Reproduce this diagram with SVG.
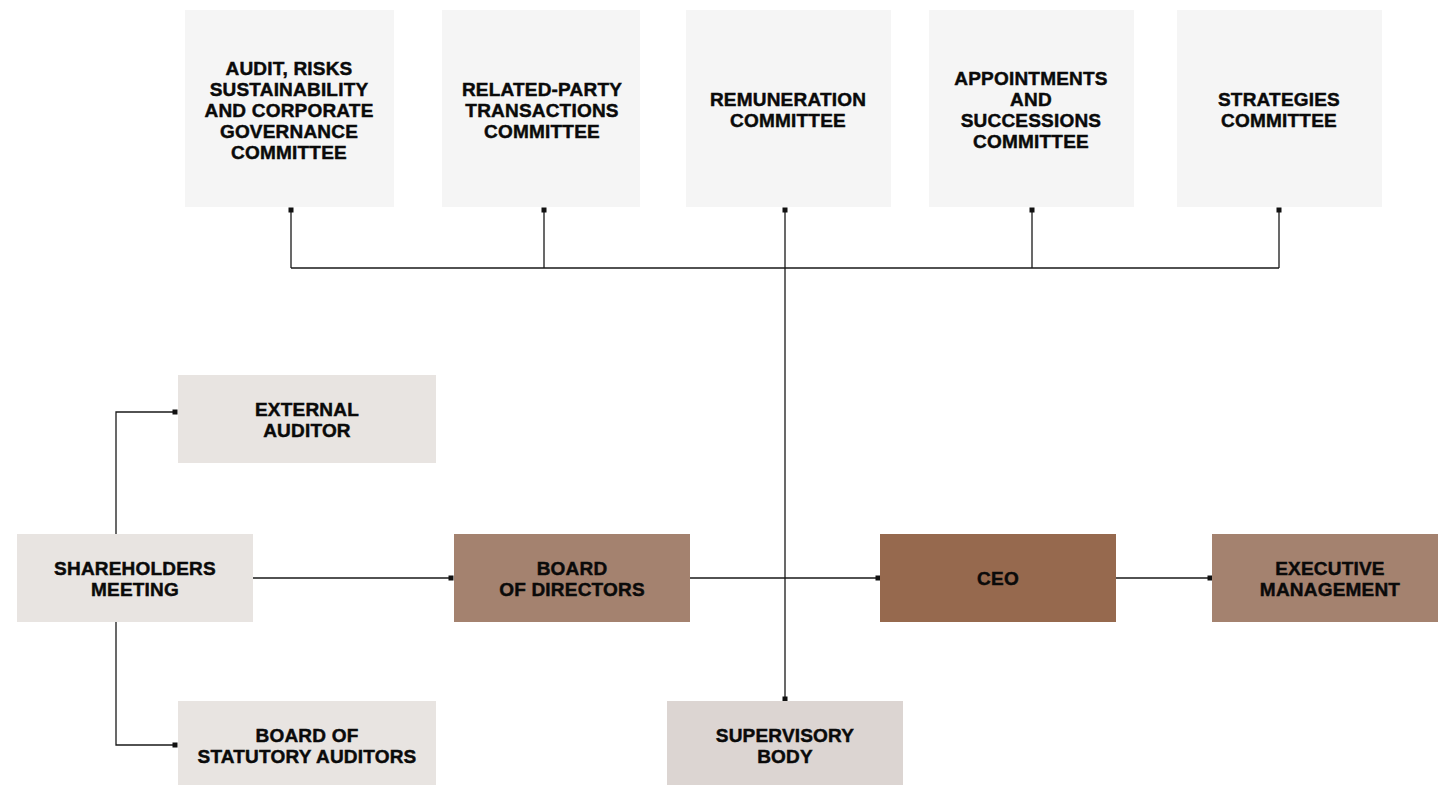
<svg xmlns="http://www.w3.org/2000/svg" width="1438" height="785" viewBox="0 0 1438 785">
<defs>
<style>
.t{font-family:"Liberation Sans",Arial,sans-serif;font-weight:bold;font-size:19px;letter-spacing:0.2px;fill:#0a0a0a;stroke:#0a0a0a;stroke-width:0.45px;text-anchor:middle}
.com{fill:#f5f5f5}
.lt{fill:#e8e4e1}
.mid{fill:#a4826f}
.dk{fill:#96694e}
.sup{fill:#dcd5d2}
.ln{stroke:#1a1a1a;stroke-width:1.3;fill:none}
.mk{fill:#111}
</style>
</defs>
<rect width="1438" height="785" fill="#ffffff"/>
<g id="connectors">
<path class="ln" d="M291 212V268M544 212V268M785 212V699M1032 212V268M1279 212V268M291 268H1279"/>
<path class="ln" d="M253 578H451M690 578H878M1116 578H1210"/>
<path class="ln" d="M116 534V412H175M116 622V745H175"/>
<rect class="mk" x="288.5" y="207.5" width="5" height="5"/>
<rect class="mk" x="541.5" y="207.5" width="5" height="5"/>
<rect class="mk" x="782.5" y="207.5" width="5" height="5"/>
<rect class="mk" x="1029.5" y="207.5" width="5" height="5"/>
<rect class="mk" x="1276.5" y="207.5" width="5" height="5"/>
<rect class="mk" x="782.5" y="696.5" width="5" height="5"/>
<rect class="mk" x="448.5" y="575.5" width="5" height="5"/>
<rect class="mk" x="875.5" y="575.5" width="5" height="5"/>
<rect class="mk" x="1207.5" y="575.5" width="5" height="5"/>
<rect class="mk" x="172.5" y="409.5" width="5" height="5"/>
<rect class="mk" x="172.5" y="742.5" width="5" height="5"/>
</g>
<g id="audit-committee">
<rect class="com" x="185" y="10" width="209" height="197"/>
<text class="t"><tspan x="289" y="74.5">AUDIT, RISKS</tspan><tspan x="289" y="95.5">SUSTAINABILITY</tspan><tspan x="289" y="116.5">AND CORPORATE</tspan><tspan x="289" y="137.5">GOVERNANCE</tspan><tspan x="289" y="158.5">COMMITTEE</tspan></text>
</g>
<g id="related-party-committee">
<rect class="com" x="442" y="10" width="198" height="197"/>
<text class="t"><tspan x="542" y="96">RELATED-PARTY</tspan><tspan x="542" y="117">TRANSACTIONS</tspan><tspan x="542" y="138">COMMITTEE</tspan></text>
</g>
<g id="remuneration-committee">
<rect class="com" x="686" y="10" width="205" height="197"/>
<text class="t"><tspan x="788" y="106">REMUNERATION</tspan><tspan x="788" y="127">COMMITTEE</tspan></text>
</g>
<g id="appointments-committee">
<rect class="com" x="929" y="10" width="205" height="197"/>
<text class="t"><tspan x="1031" y="85">APPOINTMENTS</tspan><tspan x="1031" y="106">AND</tspan><tspan x="1031" y="127">SUCCESSIONS</tspan><tspan x="1031" y="148">COMMITTEE</tspan></text>
</g>
<g id="strategies-committee">
<rect class="com" x="1177" y="10" width="205" height="197"/>
<text class="t"><tspan x="1279" y="106">STRATEGIES</tspan><tspan x="1279" y="127">COMMITTEE</tspan></text>
</g>
<g id="external-auditor">
<rect class="lt" x="178" y="375" width="258" height="88"/>
<text class="t"><tspan x="307" y="416">EXTERNAL</tspan><tspan x="307" y="437">AUDITOR</tspan></text>
</g>
<g id="shareholders-meeting">
<rect class="lt" x="17" y="534" width="236" height="88"/>
<text class="t"><tspan x="135" y="575">SHAREHOLDERS</tspan><tspan x="135" y="596">MEETING</tspan></text>
</g>
<g id="statutory-auditors">
<rect class="lt" x="178" y="701" width="258" height="84"/>
<text class="t"><tspan x="307" y="742">BOARD OF</tspan><tspan x="307" y="763">STATUTORY AUDITORS</tspan></text>
</g>
<g id="board-of-directors">
<rect class="mid" x="454" y="534" width="236" height="88"/>
<text class="t"><tspan x="572" y="575">BOARD</tspan><tspan x="572" y="596">OF DIRECTORS</tspan></text>
</g>
<g id="ceo">
<rect class="dk" x="880" y="534" width="236" height="88"/>
<text class="t" x="998" y="585">CEO</text>
</g>
<g id="executive-management">
<rect class="mid" x="1212" y="534" width="226" height="88"/>
<text class="t"><tspan x="1330" y="575">EXECUTIVE</tspan><tspan x="1330" y="596">MANAGEMENT</tspan></text>
</g>
<g id="supervisory-body">
<rect class="sup" x="667" y="701" width="236" height="84"/>
<text class="t"><tspan x="785" y="742">SUPERVISORY</tspan><tspan x="785" y="763">BODY</tspan></text>
</g>
</svg>
